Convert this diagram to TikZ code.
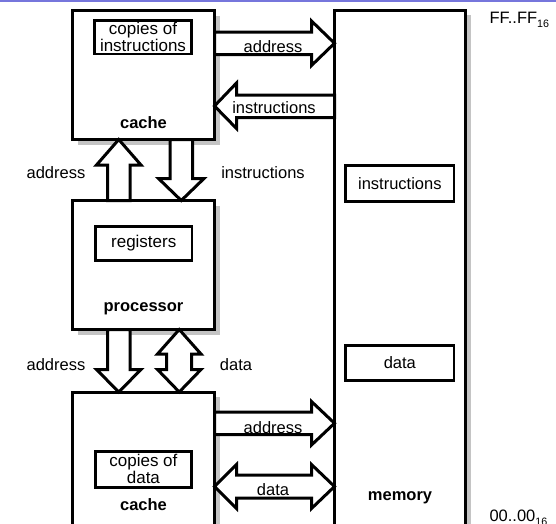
\documentclass[tikz,border=0pt]{standalone}
\usepackage{fontspec}
\setmainfont{Liberation Sans}
\usetikzlibrary{shadows}
\definecolor{shadegray}{RGB}{196,196,196}
\definecolor{topline}{RGB}{118,118,220}
\begin{document}
\begin{tikzpicture}[x=1pt,y=-1pt,
  box/.style={draw=black, line width=3pt, fill=white, outer sep=0pt, inner sep=0pt,
    drop shadow={shadow xshift=5pt, shadow yshift=-5pt, opacity=1, fill=shadegray}},
  ibox/.style={draw=black, line width=2.6pt, fill=white, outer sep=0pt, inner sep=0pt,
    align=center, font=\fontsize{16.5}{14.5}\selectfont},
  bigibox/.style={ibox, font=\fontsize{17}{14.5}\selectfont},
  lbl/.style={inner sep=0pt, anchor=base, font=\fontsize{16.5}{16}\selectfont},
  blbl/.style={lbl, font=\fontsize{16.5}{16}\selectfont\bfseries},
  barrow/.style={draw=black, fill=white, line width=3pt, line join=miter}]
\useasboundingbox (0,0) rectangle (556,523);
\fill[topline] (0,0) rectangle (556,1.8);

% main boxes
\node[box, minimum width=142pt, minimum height=129pt] (cA) at (143.5,75) {};
\node[box, minimum width=142pt, minimum height=129pt] (pr) at (143.5,265) {};
\node[box, minimum width=142pt, minimum height=148pt] (cB) at (143.5,466) {};
\node[box, minimum width=131pt, minimum height=530pt] (mem) at (400,275) {};

% inner boxes
\node[bigibox, minimum width=96.6pt, minimum height=33.3pt] (ci) at (143,37.3) {copies of\\instructions};
\node[bigibox, minimum width=96.5pt, minimum height=34pt] (rg) at (143.75,243.5) {registers};
\node[bigibox, minimum width=95.8pt, minimum height=36pt] (cd) at (143.4,469.3) {copies of\\data};
\node[ibox, minimum width=108.3pt, minimum height=36pt] (mi) at (399.85,183.3) {instructions};
\node[ibox, minimum width=108.3pt, minimum height=35.4pt] (md) at (399.85,363) {data};

% block arrows
\draw[barrow] (cA.east |- 0,32) -- (311.5,32) -- (311.5,21) -- (mem.west |- 0,43.25)
  -- (311.5,65.5) -- (311.5,54.5) -- (cA.east |- 0,54.5) -- cycle;
\draw[barrow] (mem.west |- 0,95) -- (236.5,95) -- (236.5,83) -- (cA.east |- 0,106)
  -- (236.5,128.5) -- (236.5,117.5) -- (mem.west |- 0,117.5) -- cycle;
\draw[barrow] (107.5,0 |- pr.north) -- (107.5,165) -- (96.5,165) -- (118.75,0 |- cA.south)
  -- (141,165) -- (130,165) -- (130,0 |- pr.north) -- cycle;
\draw[barrow] (170,0 |- cA.south) -- (170,178.5) -- (158.5,178.5) -- (181.25,0 |- pr.north)
  -- (204,178.5) -- (192.5,178.5) -- (192.5,0 |- cA.south) -- cycle;
\draw[barrow] (107.5,0 |- pr.south) -- (107.5,369.5) -- (96.5,369.5) -- (118.75,0 |- cB.north)
  -- (141,369.5) -- (130,369.5) -- (130,0 |- pr.south) -- cycle;
\draw[barrow] (179.25,0 |- pr.south) -- (201,354) -- (191.5,354) -- (191.5,369.5) -- (201,369.5)
  -- (179.25,0 |- cB.north) -- (157.5,369.5) -- (166.5,369.5) -- (166.5,354) -- (157.5,354) -- cycle;
\draw[barrow] (cB.east |- 0,412) -- (311.5,412) -- (311.5,401.5) -- (mem.west |- 0,423.25)
  -- (311.5,445) -- (311.5,434.5) -- (cB.east |- 0,434.5) -- cycle;
\draw[barrow] (cB.east |- 0,486.5) -- (236.5,464.5) -- (236.5,475) -- (311.5,475) -- (311.5,464.5)
  -- (mem.west |- 0,486.5) -- (311.5,508.5) -- (311.5,498) -- (236.5,498) -- (236.5,508.5) -- cycle;

% labels
\node[lbl] (l1) at (273,52) {address};
\node[lbl] (l2) at (274,113) {instructions};
\node[blbl] (l3) at (143.5,128) {cache};
\node[lbl] (l4) at (56,178) {address};
\node[lbl] (l5) at (263,178) {instructions};
\node[blbl] (l6) at (143.5,311) {processor};
\node[lbl] (l7) at (56,370) {address};
\node[lbl] (l8) at (236,370) {data};
\node[lbl] (l9) at (273,433) {address};
\node[lbl] (l10) at (273,495) {data};
\node[blbl] (l11) at (143.5,510) {cache};
\node[blbl] (l12) at (400,500) {memory};
\node[lbl, anchor=base west] (ff) at (489.3,23.3) {FF..FF\raisebox{-4.4pt}{\fontsize{10.7}{11}\selectfont 16}};
\node[lbl, anchor=base west] (oo) at (489.3,521) {00..00\raisebox{-4.4pt}{\fontsize{10.7}{11}\selectfont 16}};
\end{tikzpicture}
\end{document}
